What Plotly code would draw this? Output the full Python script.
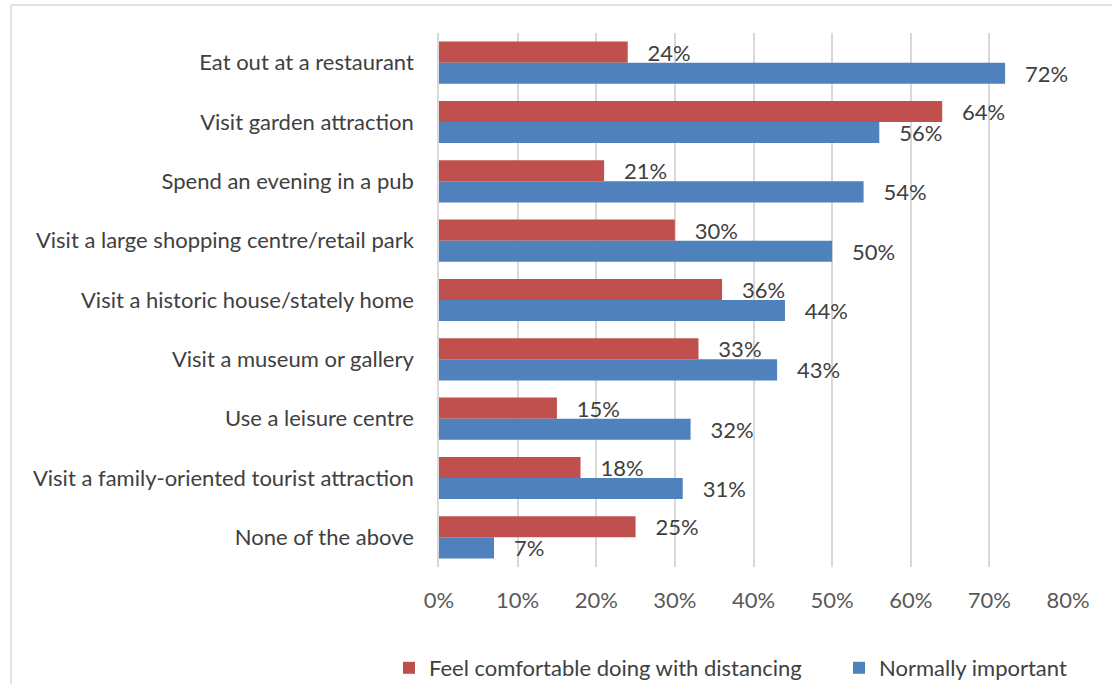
import plotly.graph_objects as go

categories = [
    "Eat out at a restaurant",
    "Visit garden attraction",
    "Spend an evening in a pub",
    "Visit a large shopping centre/retail park",
    "Visit a historic house/stately home",
    "Visit a museum or gallery",
    "Use a leisure centre",
    "Visit a family-oriented tourist attraction",
    "None of the above",
]
comfortable = [24, 64, 21, 30, 36, 33, 15, 18, 25]
important = [72, 56, 54, 50, 44, 43, 32, 31, 7]
tick_values = [0, 10, 20, 30, 40, 50, 60, 70, 80]
tick_labels = ["0%", "10%", "20%", "30%", "40%", "50%", "60%", "70%", "80%"]

FONT = "Lato"
TEXT = "#404040"
SIZE = 22

# plot area in pixels
L, R, T, B = 439, 1068, 33, 567
W, H = 1112, 684
PW, PH = R - L, B - T


def px_x(p):
    return (p - L) / PW


def px_y(p):
    return (B - p) / PH


fig = go.Figure()
for name, vals, color, leg in [
    ("Feel comfortable doing with distancing", comfortable, "#C0504D", "legend"),
    ("Normally important", important, "#4F81BD", "legend2"),
]:
    fig.add_trace(go.Bar(
        y=categories, x=vals, name=name, orientation="h",
        marker=dict(color=color, line=dict(width=0)),
        text=[f"{v}%" for v in vals],
        texttemplate="   %{text}",
        textposition="outside",
        constraintext="none",
        cliponaxis=False,
        textfont=dict(family=FONT, size=SIZE, color=TEXT),
        legend=leg,
    ))

legend_common = dict(orientation="h", xref="container", yref="container",
                     xanchor="left", y=1 - 668 / H, yanchor="middle",
                     font=dict(family=FONT, size=SIZE, color=TEXT),
                     itemwidth=30, bgcolor="rgba(0,0,0,0)")

fig.update_layout(
    width=W, height=H,
    margin=dict(l=L, r=W - R, t=T, b=H - B, autoexpand=False),
    paper_bgcolor="white", plot_bgcolor="white",
    barmode="group", bargap=0.29, bargroupgap=0,
    font=dict(family=FONT, size=SIZE, color=TEXT),
    showlegend=True,
    legend=dict(x=389 / W, **legend_common),
    legend2=dict(x=839 / W, **legend_common),
    xaxis=dict(range=[0, 80], tickvals=tick_values, ticktext=tick_labels,
               showgrid=True, gridcolor="#D9D9D9", gridwidth=1.5,
               zeroline=False, showline=False,
               ticks="", ticklabelstandoff=18,
               tickfont=dict(family=FONT, size=SIZE, color="#595959")),
    yaxis=dict(autorange="reversed", showgrid=False, zeroline=False,
               showline=True, linecolor="#D9D9D9", linewidth=1.5,
               ticks="", ticklabelstandoff=19,
               tickfont=dict(family=FONT, size=SIZE, color=TEXT)),
    shapes=[
        dict(type="line", xref="paper", yref="paper",
             x0=px_x(11), x1=px_x(W), y0=px_y(5), y1=px_y(5),
             line=dict(color="#D9D9D9", width=1.5), layer="below"),
        dict(type="line", xref="paper", yref="paper",
             x0=px_x(11), x1=px_x(11), y0=px_y(5), y1=px_y(H),
             line=dict(color="#D9D9D9", width=1.5), layer="below"),
    ],
)

fig.write_html("out.html")
